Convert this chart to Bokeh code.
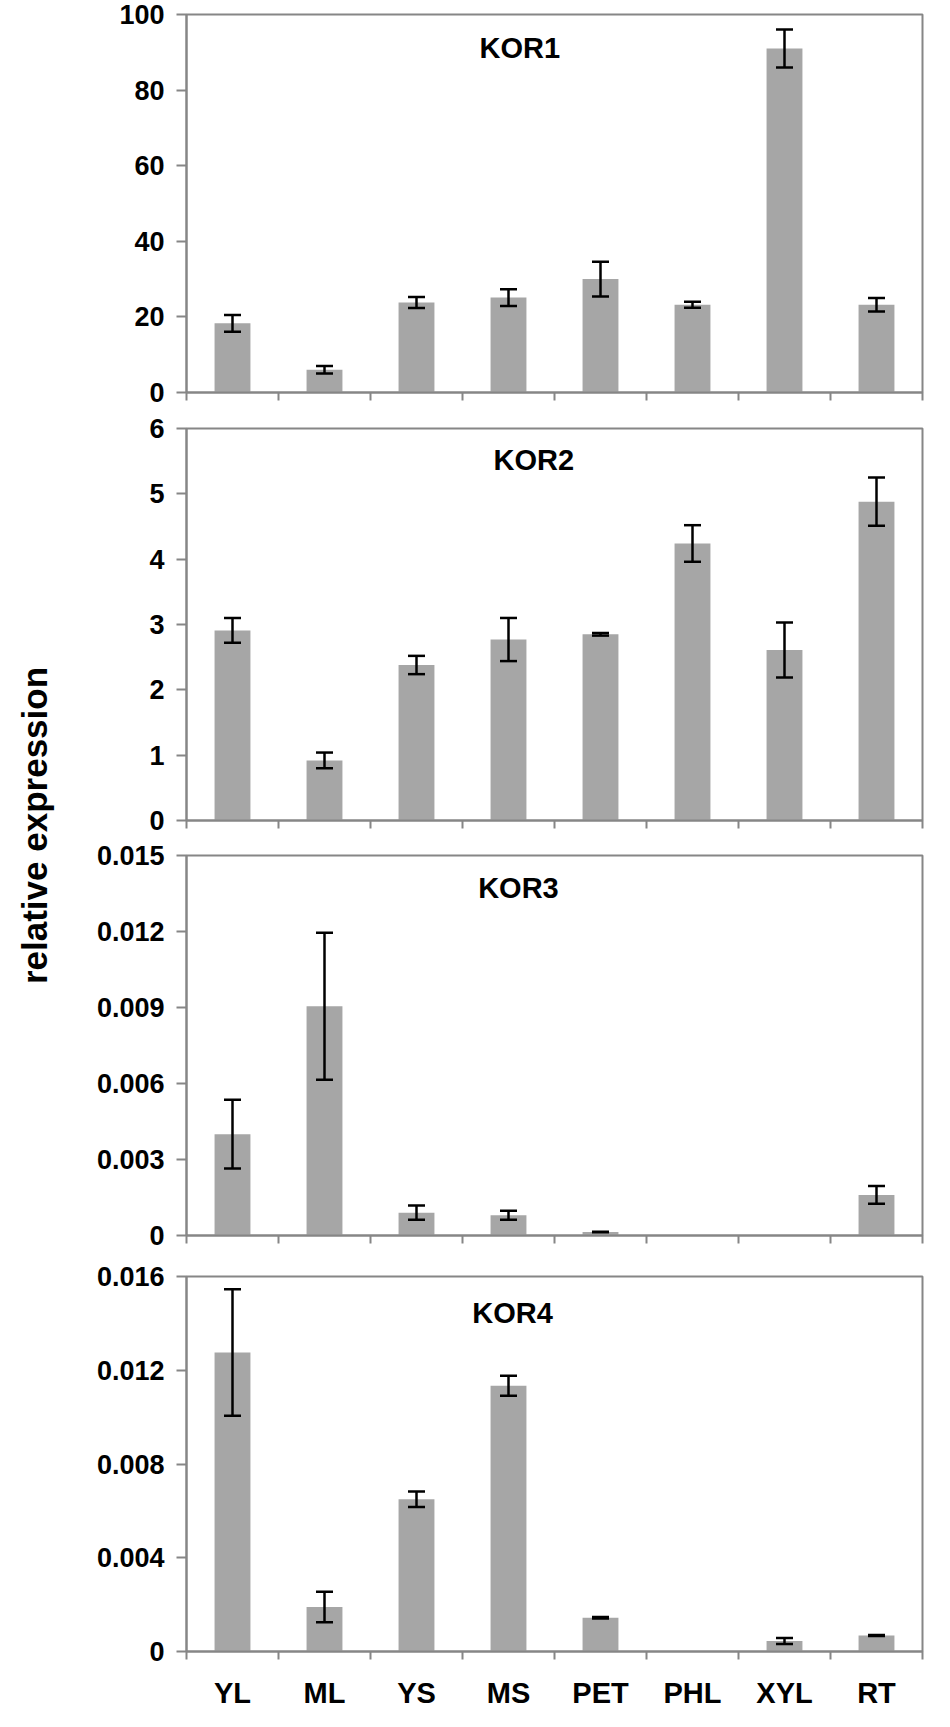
import math
from bokeh.plotting import figure
from bokeh.layouts import row, column
from bokeh.models import (ColumnDataSource, Range1d, FixedTicker, Whisker, TeeHead, Label)
from bokeh.embed import file_html
from bokeh.resources import INLINE

# ---------------- data ----------------
categories = ["YL", "ML", "YS", "MS", "PET", "PHL", "XYL", "RT"]
panel_names = ["KOR1", "KOR2", "KOR3", "KOR4"]
y_axis_title = "relative expression"

kor1_mean = [18.3, 6.0, 23.8, 25.1, 30.0, 23.2, 91.0, 23.2]
kor1_err = [2.2, 1.0, 1.45, 2.2, 4.6, 0.8, 5.0, 1.8]
kor1_ticks = [0, 20, 40, 60, 80, 100]
kor1_labels = ["0", "20", "40", "60", "80", "100"]

kor2_mean = [2.91, 0.92, 2.38, 2.77, 2.85, 4.24, 2.61, 4.88]
kor2_err = [0.19, 0.12, 0.14, 0.33, 0.02, 0.28, 0.42, 0.37]
kor2_ticks = [0, 1, 2, 3, 4, 5, 6]
kor2_labels = ["0", "1", "2", "3", "4", "5", "6"]

kor3_mean = [0.0040, 0.00905, 0.0009, 0.0008, 0.00014, 0.0, 0.0, 0.0016]
kor3_err = [0.00136, 0.0029, 0.00028, 0.00018, 0.00001, 0.0, 0.0, 0.00035]
kor3_ticks = [0, 0.003, 0.006, 0.009, 0.012, 0.015]
kor3_labels = ["0", "0.003", "0.006", "0.009", "0.012", "0.015"]

kor4_mean = [0.01276, 0.0019, 0.0065, 0.01134, 0.00144, 0.00002, 0.00045, 0.00068]
kor4_err = [0.0027, 0.00065, 0.00033, 0.00043, 0.00003, 0.0, 0.00013, 0.00002]
kor4_ticks = [0, 0.004, 0.008, 0.012, 0.016]
kor4_labels = ["0", "0.004", "0.008", "0.012", "0.016"]

# ---------------- style ----------------
FONT = "Liberation Sans"
AXIS_GRAY = "#868686"
BAR_GRAY = "#a6a6a6"
PANEL_W = 860
LABEL_W = 70

N = len(categories)
centers = [i + 0.5 for i in range(N)]      # category slot centres
bounds = list(range(N + 1))                # category slot boundaries


def make_panel(name, means, errs, ticks, labels, height, b_left, plot_w, b_top, b_bottom,
               title_xfrac, title_off, show_labels):
    ymax = ticks[-1]
    p = figure(width=PANEL_W, height=height, x_range=Range1d(0, N),
               y_range=Range1d(0, ymax), toolbar_location=None, output_backend="svg",
               min_border_left=b_left, min_border_right=PANEL_W - b_left - plot_w,
               min_border_top=b_top, min_border_bottom=b_bottom)
    p.xgrid.visible = False
    p.ygrid.visible = False
    p.outline_line_color = AXIS_GRAY
    p.outline_line_width = 2
    p.background_fill_color = "white"
    p.border_fill_color = "white"

    src = ColumnDataSource(dict(x=centers, cat=categories, val=means))
    p.vbar(x="x", top="val", width=0.39, source=src, fill_color=BAR_GRAY, line_color=None)

    keep = [i for i, m in enumerate(means) if m > 0 and errs[i] > 0]
    wsrc = ColumnDataSource(dict(x=[centers[i] for i in keep],
                                 upper=[means[i] + errs[i] for i in keep],
                                 lower=[means[i] - errs[i] for i in keep]))
    w = Whisker(source=wsrc, base="x", upper="upper", lower="lower",
                dimension="height", line_width=2.5, line_color="black",
                upper_head=TeeHead(size=17, line_width=2.5, line_color="black"),
                lower_head=TeeHead(size=17, line_width=2.5, line_color="black"),
                level="overlay")
    p.add_layout(w)

    # y axis
    ya = p.yaxis[0]
    ya.ticker = FixedTicker(ticks=ticks)
    ya.major_label_overrides = {t: l for t, l in zip(ticks, labels)}
    ya.major_label_text_font = FONT
    ya.major_label_text_font_style = "bold"
    ya.major_label_text_font_size = "27px"
    ya.major_label_text_color = "black"
    ya.major_label_standoff = 12
    ya.major_tick_out = 10
    ya.major_tick_in = 0
    ya.minor_tick_line_color = None
    ya.axis_line_color = AXIS_GRAY
    ya.axis_line_width = 2
    ya.major_tick_line_color = AXIS_GRAY
    ya.major_tick_line_width = 2

    # x axis: labels at slot centres, tick marks at slot boundaries
    xa = p.xaxis[0]
    xa.ticker = FixedTicker(ticks=centers, minor_ticks=bounds)
    xa.major_label_overrides = {c: l for c, l in zip(centers, categories)}
    xa.major_tick_line_color = None
    xa.major_tick_out = 0
    xa.major_tick_in = 0
    xa.minor_tick_out = 8
    xa.minor_tick_in = 0
    xa.minor_tick_line_color = AXIS_GRAY
    xa.minor_tick_line_width = 2
    xa.axis_line_color = AXIS_GRAY
    xa.axis_line_width = 2
    if show_labels:
        xa.major_label_standoff = 17
        xa.major_label_text_font = FONT
        xa.major_label_text_font_style = "bold"
        xa.major_label_text_font_size = "29px"
        xa.major_label_text_color = "black"
    else:
        xa.major_label_standoff = 0
        xa.major_label_text_font_size = "1px"
        xa.major_label_text_alpha = 0

    plot_h = height - b_top - b_bottom
    p.add_layout(Label(x=title_xfrac * N, y=ymax * (1 - title_off / plot_h), text=name,
                       text_font=FONT, text_font_style="bold", text_font_size="29px",
                       text_color="black", text_align="center", text_baseline="middle"))
    return p


p1 = make_panel(panel_names[0], kor1_mean, kor1_err, kor1_ticks, kor1_labels,
                410, 112, 740, 14, 18, 0.453, 33, False)
p2 = make_panel(panel_names[1], kor2_mean, kor2_err, kor2_ticks, kor2_labels,
                427, 112, 740, 18, 17, 0.472, 31, False)
p3 = make_panel(panel_names[2], kor3_mean, kor3_err, kor3_ticks, kor3_labels,
                417, 116, 739, 18, 19, 0.451, 32, False)
p4 = make_panel(panel_names[3], kor4_mean, kor4_err, kor4_ticks, kor4_labels,
                457, 111, 741, 22, 48, 0.443, 38, True)

TOTAL_H = 410 + 427 + 417 + 457
lab = figure(width=LABEL_W, height=TOTAL_H, x_range=Range1d(0, 1), y_range=Range1d(0, 1),
             toolbar_location=None, output_backend="svg", x_axis_type=None, y_axis_type=None,
             min_border=0, outline_line_color=None)
lab.xgrid.visible = False
lab.ygrid.visible = False
lab.add_layout(Label(x=34 / LABEL_W, y=1 - 825 / TOTAL_H, text=y_axis_title, angle=math.pi / 2,
                     text_font=FONT, text_font_style="bold", text_font_size="35px",
                     text_color="black", text_align="center", text_baseline="middle"))

layout = row(lab, column(p1, p2, p3, p4))
open("out.html", "w").write(file_html(layout, INLINE))
